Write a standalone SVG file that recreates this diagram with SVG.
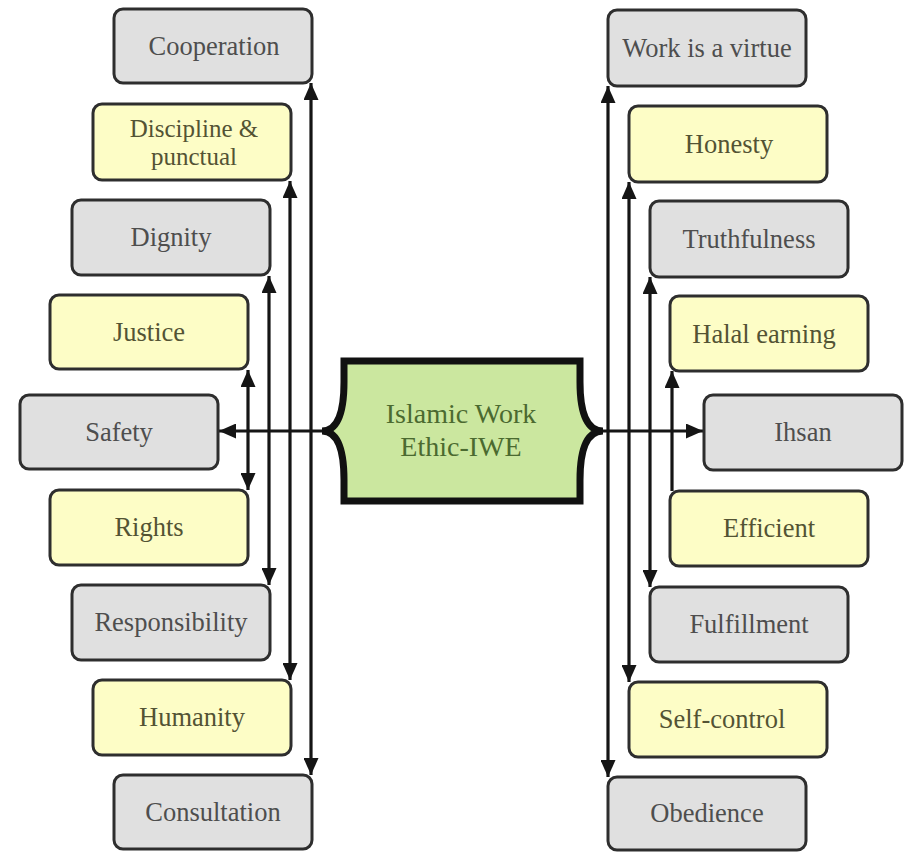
<svg xmlns="http://www.w3.org/2000/svg" width="907" height="852" viewBox="0 0 907 852">
<defs>
<style>
.box rect{stroke:#2e2e2e;stroke-width:3}
.g rect{fill:#e0e0e0}
.y rect{fill:#fdfdc6}
.box text{font-family:"Liberation Serif","Times New Roman",serif;font-size:26.5px;text-anchor:middle}
.g text{fill:#4e4e4e}
.y text{fill:#535334}
.conn line{stroke:#151515;stroke-width:3.2;fill:none}
</style>
<marker id="ah" markerUnits="userSpaceOnUse" markerWidth="17" markerHeight="15" refX="17" refY="7.5" orient="auto-start-reverse" viewBox="0 0 17 15">
<path d="M0,0 L17,7.5 L0,15 z" fill="#151515"/>
</marker>
</defs>
<rect width="907" height="852" fill="#fff"/>

<g id="connectors" class="conn">
<line x1="311" y1="83" x2="311" y2="775" marker-start="url(#ah)" marker-end="url(#ah)"/>
<line x1="290" y1="181" x2="290" y2="680" marker-start="url(#ah)" marker-end="url(#ah)"/>
<line x1="269" y1="276" x2="269" y2="585" marker-start="url(#ah)" marker-end="url(#ah)"/>
<line x1="248" y1="370" x2="248" y2="490" marker-start="url(#ah)" marker-end="url(#ah)"/>
<line x1="322" y1="431" x2="219" y2="431" marker-end="url(#ah)"/>
<line x1="608" y1="86" x2="608" y2="777" marker-start="url(#ah)" marker-end="url(#ah)"/>
<line x1="629" y1="182" x2="629" y2="682" marker-start="url(#ah)" marker-end="url(#ah)"/>
<line x1="650" y1="277" x2="650" y2="587" marker-start="url(#ah)" marker-end="url(#ah)"/>
<line x1="672" y1="371" x2="672" y2="491" marker-start="url(#ah)"/>
<line x1="603" y1="431" x2="703" y2="431" marker-end="url(#ah)"/>
</g>

<g id="center">
<path d="M344,361 L580,361 L580,382 Q580,431 603,431 Q580,431 580,480 L580,501 L344,501 L344,480 Q344,431 322,431 Q344,431 344,382 Z" fill="#cbe79f" stroke="#111" stroke-width="7" stroke-linejoin="miter"/>
<text x="461" y="423" font-family="'Liberation Serif','Times New Roman',serif" font-size="28" fill="#4b6a30" text-anchor="middle">Islamic Work</text>
<text x="461" y="456" font-family="'Liberation Serif','Times New Roman',serif" font-size="28" fill="#4b6a30" text-anchor="middle">Ethic-IWE</text>
</g>

<g id="cooperation" class="box g"><rect x="114" y="9" width="198" height="74" rx="9"/><text x="214" y="55">Cooperation</text></g>
<g id="discipline" class="box y"><rect x="93" y="104" width="198" height="76" rx="9"/><text x="194" y="137" style="font-size:25px">Discipline &amp;</text><text x="194" y="165" style="font-size:25px">punctual</text></g>
<g id="dignity" class="box g"><rect x="72" y="200" width="198" height="75" rx="9"/><text x="171" y="246">Dignity</text></g>
<g id="justice" class="box y"><rect x="50" y="295" width="198" height="74" rx="9"/><text x="149" y="341">Justice</text></g>
<g id="safety" class="box g"><rect x="20" y="395" width="198" height="74" rx="9"/><text x="119" y="441">Safety</text></g>
<g id="rights" class="box y"><rect x="50" y="490" width="198" height="75" rx="9"/><text x="149" y="536">Rights</text></g>
<g id="responsibility" class="box g"><rect x="72" y="585" width="198" height="75" rx="9"/><text x="171" y="631">Responsibility</text></g>
<g id="humanity" class="box y"><rect x="93" y="680" width="198" height="75" rx="9"/><text x="192" y="726">Humanity</text></g>
<g id="consultation" class="box g"><rect x="114" y="775" width="198" height="74" rx="9"/><text x="213" y="821">Consultation</text></g>

<g id="work-virtue" class="box g"><rect x="608" y="10" width="198" height="76" rx="9"/><text x="707" y="57">Work is a virtue</text></g>
<g id="honesty" class="box y"><rect x="629" y="106" width="198" height="76" rx="9"/><text x="729" y="153">Honesty</text></g>
<g id="truthfulness" class="box g"><rect x="650" y="201" width="198" height="76" rx="9"/><text x="749" y="248">Truthfulness</text></g>
<g id="halal" class="box y"><rect x="670" y="296" width="198" height="75" rx="9"/><text x="764" y="343">Halal earning</text></g>
<g id="ihsan" class="box g"><rect x="704" y="395" width="198" height="75" rx="9"/><text x="803" y="441">Ihsan</text></g>
<g id="efficient" class="box y"><rect x="670" y="491" width="198" height="75" rx="9"/><text x="769" y="537">Efficient</text></g>
<g id="fulfillment" class="box g"><rect x="650" y="587" width="198" height="75" rx="9"/><text x="749" y="633">Fulfillment</text></g>
<g id="selfcontrol" class="box y"><rect x="629" y="682" width="198" height="75" rx="9"/><text x="722" y="728">Self-control</text></g>
<g id="obedience" class="box g"><rect x="608" y="777" width="198" height="73" rx="9"/><text x="707" y="822">Obedience</text></g>
</svg>
